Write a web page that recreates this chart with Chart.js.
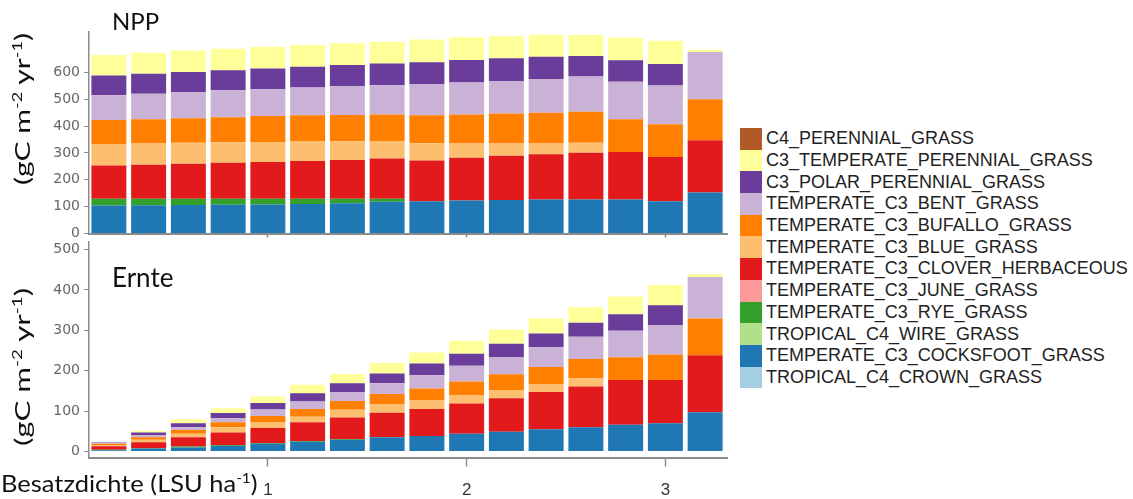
<!DOCTYPE html>
<html>
<head>
<meta charset="utf-8">
<script src="https://cdn.jsdelivr.net/npm/chart.js@4.4.1/dist/chart.umd.min.js"></script>
<style>
  body { margin: 0; background: #fff; width: 1133px; height: 499px; overflow: hidden; position: relative; }
  canvas { position: absolute; left: 0; }
  #chart-npp { top: 0; }
  #chart-ernte { top: 225px; }
  .title { position: absolute; font-family: Lato, 'Open Sans', sans-serif; color: #111; white-space: nowrap; line-height: 1; }
  .title sup { font-size: 0.6em; line-height: 0; }
  #legend { position: absolute; left: 740px; top: 128px; font-family: 'Liberation Sans', Arial, sans-serif; }
  .item { display: flex; align-items: center; height: 21.7px; }
  .box { width: 22px; height: 21.7px; margin-right: 4px; flex: none; }
  .label { font-size: 18px; color: #222; white-space: nowrap; }
</style>
</head>
<body>
<canvas id="chart-npp" width="735" height="252"></canvas>
<canvas id="chart-ernte" width="735" height="274"></canvas>

<div class="title" style="left:112px; top:9px; font-size:24px;">NPP</div>
<div class="title" style="left:112px; top:264px; font-size:26px;">Ernte</div>
<div class="title ytitle" data-fit="152" style="left:22px; top:109px; font-size:22px;">(gC m<sup>-2</sup> yr<sup>-1</sup>)</div>
<div class="title ytitle" data-fit="158" style="left:22px; top:367px; font-size:22px;">(gC m<sup>-2</sup> yr<sup>-1</sup>)</div>
<div class="title" id="xtitle" style="left:1px; top:472px; font-size:23px;">Besatzdichte (LSU ha<sup>-1</sup>)</div>
<div id="legend"></div>

<script>
// Stocking density of each simulated bar (LSU ha-1)
const BESATZDICHTE = [0.2, 0.4, 0.6, 0.8, 1.0, 1.2, 1.4, 1.6, 1.8, 2.0, 2.2, 2.4, 2.6, 2.8, 3.0, 3.2];
const X_TICKS = [1, 2, 3];

// Plant functional types, stacking order bottom -> top (legend shows them reversed)
const PFT_NAMES = [
  'TROPICAL_C4_CROWN_GRASS',
  'TEMPERATE_C3_COCKSFOOT_GRASS',
  'TROPICAL_C4_WIRE_GRASS',
  'TEMPERATE_C3_RYE_GRASS',
  'TEMPERATE_C3_JUNE_GRASS',
  'TEMPERATE_C3_CLOVER_HERBACEOUS',
  'TEMPERATE_C3_BLUE_GRASS',
  'TEMPERATE_C3_BUFALLO_GRASS',
  'TEMPERATE_C3_BENT_GRASS',
  'C3_POLAR_PERENNIAL_GRASS',
  'C3_TEMPERATE_PERENNIAL_GRASS',
  'C4_PERENNIAL_GRASS',
];
const PFT_COLORS = ['#a6cee3', '#1f78b4', '#b2df8a', '#33a02c', '#fb9a99', '#e31a1c',
                    '#fdbf6f', '#ff7f00', '#cab2d6', '#6a3d9a', '#ffff99', '#b15928'];

// NPP (gC m-2 yr-1)
const NPP_CROWN     = [0, 0, 0, 0, 0, 0, 0, 0, 0, 0, 0, 0, 0, 0, 0, 0];
const NPP_COCKSFOOT = [104, 105, 106, 107, 108, 110, 113, 118, 120, 123, 125, 127, 127, 127, 120, 153];
const NPP_WIRE      = [0, 0, 0, 0, 0, 0, 0, 0, 0, 0, 0, 0, 0, 0, 0, 0];
const NPP_RYE       = [25, 24, 23, 22, 21, 19, 16, 11, 0, 0, 0, 0, 0, 0, 0, 0];
const NPP_JUNE      = [0, 0, 0, 0, 0, 0, 0, 0, 0, 0, 0, 0, 0, 0, 0, 0];
const NPP_CLOVER    = [124, 127, 131, 134, 137, 141, 145, 150, 152, 159, 164, 168, 174, 176, 165, 194];
const NPP_BLUE      = [80, 79, 78, 77, 75, 72, 69, 63, 64, 53, 46, 40, 37, 0, 0, 0];
const NPP_BUFALLO   = [89, 90, 91, 93, 96, 98, 98, 101, 104, 108, 112, 114, 115, 122, 122, 153];
const NPP_BENT      = [93, 95, 97, 100, 100, 103, 107, 109, 116, 119, 121, 126, 131, 140, 144, 176];
const NPP_POLAR     = [73, 75, 75, 75, 77, 78, 79, 81, 81, 84, 84, 83, 77, 80, 80, 0];
const NPP_C3_TEMP   = [76, 78, 80, 80, 81, 81, 81, 81, 85, 84, 82, 82, 78, 84, 86, 8];
const NPP_C4_PEREN  = [0, 0, 0, 0, 0, 0, 0, 0, 0, 0, 0, 0, 0, 0, 0, 0];

// Ernte / harvest (gC m-2 yr-1)
const ERNTE_CROWN     = [0, 0, 0, 0, 0, 0, 0, 0, 0, 0, 0, 0, 0, 0, 0, 0];
const ERNTE_COCKSFOOT = [3, 7, 10, 14, 19, 24, 29, 35, 38, 44, 49, 55, 60, 66, 70, 97];
const ERNTE_WIRE      = [0, 0, 0, 0, 0, 0, 0, 0, 0, 0, 0, 0, 0, 0, 0, 0];
const ERNTE_RYE       = [1, 1, 2, 2, 2, 2, 2, 1, 0, 0, 0, 0, 0, 0, 0, 0];
const ERNTE_JUNE      = [0, 0, 0, 0, 0, 0, 0, 0, 0, 0, 0, 0, 0, 0, 0, 0];
const ERNTE_CLOVER    = [9, 15, 23, 31, 37, 46, 53, 60, 67, 75, 83, 92, 101, 111, 107, 141];
const ERNTE_BLUE      = [3, 6, 9, 13, 15, 14, 19, 20, 21, 21, 20, 19, 20, 0, 0, 0];
const ERNTE_BUFALLO   = [3, 6, 9, 12, 15, 19, 22, 26, 30, 33, 39, 43, 48, 56, 63, 91];
const ERNTE_BENT      = [2, 6, 7, 10, 16, 19, 22, 27, 33, 39, 43, 49, 55, 66, 73, 103];
const ERNTE_POLAR     = [1, 6, 10, 13, 16, 20, 22, 24, 29, 30, 33, 34, 35, 41, 49, 0];
const ERNTE_C3_TEMP   = [1, 4, 10, 12, 16, 21, 23, 26, 27, 32, 35, 37, 38, 44, 50, 7];
const ERNTE_C4_PEREN  = [0, 0, 0, 0, 0, 0, 0, 0, 0, 0, 0, 0, 0, 0, 0, 0];

const NPP_SERIES = [NPP_CROWN, NPP_COCKSFOOT, NPP_WIRE, NPP_RYE, NPP_JUNE, NPP_CLOVER,
                    NPP_BLUE, NPP_BUFALLO, NPP_BENT, NPP_POLAR, NPP_C3_TEMP, NPP_C4_PEREN];
const ERNTE_SERIES = [ERNTE_CROWN, ERNTE_COCKSFOOT, ERNTE_WIRE, ERNTE_RYE, ERNTE_JUNE, ERNTE_CLOVER,
                      ERNTE_BLUE, ERNTE_BUFALLO, ERNTE_BENT, ERNTE_POLAR, ERNTE_C3_TEMP, ERNTE_C4_PEREN];

const AXIS_GREY = '#8c8c8c';

Chart.defaults.font.family = "'Liberation Sans', Arial, sans-serif";

function _datasets(series) {
  return series.map((values, i) => ({
    label: PFT_NAMES[i],
    data: values.map((y, j) => ({ x: BESATZDICHTE[j], y })),
    backgroundColor: PFT_COLORS[i],
    borderWidth: 0,
    categoryPercentage: 1,
    barPercentage: 0.88,
  }));
}

// the canvases overlap a little so the end tick labels have room;
// chart areas are pinned with padding + fixed axis sizes
function makeChart(id, series, o) {
  return new Chart(document.getElementById(id), {
    type: 'bar',
    data: { datasets: _datasets(series) },
    options: {
      responsive: false,
      animation: false,
      devicePixelRatio: 1,
      layout: { padding: { top: o.padTop, right: 8, left: 0, bottom: 0 } },
      plugins: { legend: { display: false }, tooltip: { enabled: false } },
      scales: {
        x: {
          type: 'linear',
          stacked: true,
          offset: false,
          min: 0.1,
          max: 3.31,
          afterBuildTicks: s => { s.ticks = X_TICKS.map(v => ({ value: v })); },
          afterFit: s => { s.height = o.xHeight; },
          border: { display: true, color: AXIS_GREY, width: 2 },
          grid: { offset: false, drawOnChartArea: false, drawTicks: true, tickLength: o.xTickLen, color: AXIS_GREY, tickWidth: 1.5 },
          ticks: { display: o.xLabels, padding: 14, color: '#333', font: { size: 17 } },
        },
        y: {
          stacked: true,
          min: o.yMin,
          max: o.yMax,
          afterBuildTicks: s => { s.ticks = o.yTicks.map(v => ({ value: v })); },
          afterFit: s => { s.width = 89; },
          border: { display: true, color: AXIS_GREY, width: 1.5 },
          grid: { drawOnChartArea: false, drawTicks: true, tickLength: 5, color: AXIS_GREY },
          ticks: { padding: 4, color: '#666', font: { family: "'DejaVu Sans'", size: 14 } },
        },
      },
    },
  });
}

// top panel: canvas 0..252, plot 32..233.5
makeChart('chart-npp', NPP_SERIES, {
  padTop: 32, xHeight: 18.5, xTickLen: 4, xLabels: false,
  yMin: 0, yMax: 750, yTicks: [0, 100, 200, 300, 400, 500, 600],
});

// bottom panel: canvas 225..499, plot 241.5..457.5
makeChart('chart-ernte', ERNTE_SERIES, {
  padTop: 16.5, xHeight: 41.5, xTickLen: 9, xLabels: true,
  yMin: -15, yMax: 520, yTicks: [0, 100, 200, 300, 400, 500],
});

// legend, top to bottom = reverse stacking order
const legend = document.getElementById('legend');
for (let i = PFT_NAMES.length - 1; i >= 0; i--) {
  const row = document.createElement('div');
  row.className = 'item';
  row.innerHTML = `<div class="box" style="background:${PFT_COLORS[i]}"></div><span class="label">${PFT_NAMES[i]}</span>`;
  legend.appendChild(row);
}

// stretch the axis titles to the lengths they have in the figure
document.querySelectorAll('.ytitle').forEach(el => {
  const k = +el.dataset.fit / el.offsetWidth;
  el.style.transform = `translate(-50%, -50%) rotate(-90deg) scaleX(${k})`;
});
const xt = document.getElementById('xtitle');
xt.style.transformOrigin = 'left center';
xt.style.transform = `scaleX(${257 / xt.offsetWidth})`;
</script>
</body>
</html>
